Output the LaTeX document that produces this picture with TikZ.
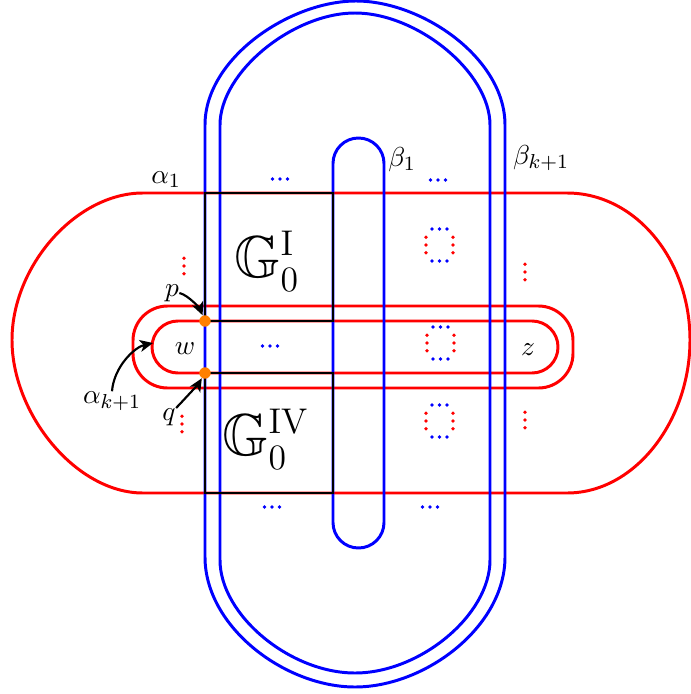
\RequirePackage{fix-cm}
\documentclass[tikz,border=0pt]{standalone}
\usepackage{amssymb}
\DeclareMathSizes{24.88}{24.88}{15}{11}
\DeclareMathSizes{11.5}{11.5}{8.5}{6.5}
\usetikzlibrary{arrows.meta}
\tikzset{
  redl/.style={red, line width=1.25pt},
  bluel/.style={blue, line width=1.25pt},
  boxl/.style={black, line width=1.25pt},
  arr/.style={black, line width=0.9pt, -{Stealth[length=5.5pt,width=5pt,inset=1.5pt]}},
  odot/.style={circle, fill=orange, inner sep=0pt, minimum size=4.8pt},
  lab/.style={inner sep=0pt, font=\fontsize{11.5}{14}\selectfont},
}
\newcommand{\hdts}[2]{\fill[#2] #1 ++(-7.5,0) circle (0.8pt) ++(7.5,0) circle (0.8pt) ++(7.5,0) circle (0.8pt);}
\newcommand{\vdts}[2]{\fill[#2] #1 ++(0,-7.7) circle (0.8pt) ++(0,7.7) circle (0.8pt) ++(0,7.7) circle (0.8pt);}
\newcommand{\dsq}[2]{\hdts{(#1,#2-16)}{blue}\hdts{(#1,#2+16)}{blue}\vdts{(#1-13.5,#2)}{red}\vdts{(#1+13.5,#2)}{red}}
\begin{document}
\begin{tikzpicture}[x=0.42pt, y=-0.42pt]
\useasboundingbox (0,0) rectangle (691,694);
% red alpha_1
\draw[redl] (143,193) -- (567,193) .. controls (635,193) and (690,259) .. (690,340)
  .. controls (690,421) and (635,493) .. (567,493) -- (143,493)
  .. controls (76,493) and (12,414) .. (12,340) .. controls (12,266) and (76,193) .. (143,193) -- cycle;
% red alpha_{k+1}
\draw[redl, rounded corners=14.5pt] (133,306) rectangle (573,388);
\draw[redl, rounded corners=10.9pt] (152,321) rectangle (558,373);
% blue outer
\draw[bluel] (205,557) -- (205,125) .. controls (205,58) and (290,1) .. (356,1)
  .. controls (422,1) and (505,58) .. (505,125) -- (505,557)
  .. controls (505,627) and (425,687) .. (355,687) .. controls (285,687) and (205,627) .. (205,557) -- cycle;
\draw[bluel] (220,560) -- (220,125) .. controls (220,72) and (293,13) .. (355,13)
  .. controls (417,13) and (490,72) .. (490,125) -- (490,560)
  .. controls (490,615) and (420,673) .. (355,673) .. controls (290,673) and (220,615) .. (220,560) -- cycle;
\draw[bluel, rounded corners=10.7pt] (333,138) rectangle (384,548);
% boxes
\draw[boxl] (205,193) rectangle (333,321);
\draw[boxl] (205,373) rectangle (333,493);
\node[inner sep=0pt, anchor=base west] (g1) at (234,277) {\Huge $\mathbb{G}_0^{\mathrm{I}}$};
\node[inner sep=0pt, anchor=base west] (g4) at (222,455) {\Huge $\mathbb{G}_0^{\mathrm{IV}}$};
% dots
\hdts{(280,179)}{blue}
\hdts{(438,180)}{blue}
\hdts{(270,346)}{blue}
\hdts{(272,507)}{blue}
\hdts{(430,507)}{blue}
\vdts{(184,266)}{red}
\vdts{(182,424)}{red}
\vdts{(525,272)}{red}
\vdts{(525,420)}{red}
\dsq{439.5}{245}
\dsq{440.5}{343}
\dsq{439.5}{421}
% labels
\node[lab] (a1) at (166,180) {$\alpha_1$};
\node[lab] (b1) at (402,160) {$\beta_1$};
\node[lab] (bk) at (541,158) {$\beta_{k+1}$};
\node[lab] (plab) at (172,293) {$p$};
\node[lab] (qlab) at (169,417) {$q$};
\node[lab] (wlab) at (185,349) {$w$};
\node[lab] (zlab) at (528,350) {$z$};
\node[lab] (aklab) at (112,401) {$\alpha_{k+1}$};
% orange points
\node[odot] (pd) at (205,321) {};
\node[odot] (qd) at (205,373) {};
\coordinate (ak) at (153,343);
% arrows
\draw[arr] (plab.east) .. controls +(9,2) and +(-5,-12) .. (pd);
\draw[arr] (qlab.north east) .. controls +(6,-6) and +(-6,10) .. (qd);
\draw[arr] (aklab.north) .. controls +(2,-25) and +(-18,4) .. (ak);
\end{tikzpicture}
\end{document}
